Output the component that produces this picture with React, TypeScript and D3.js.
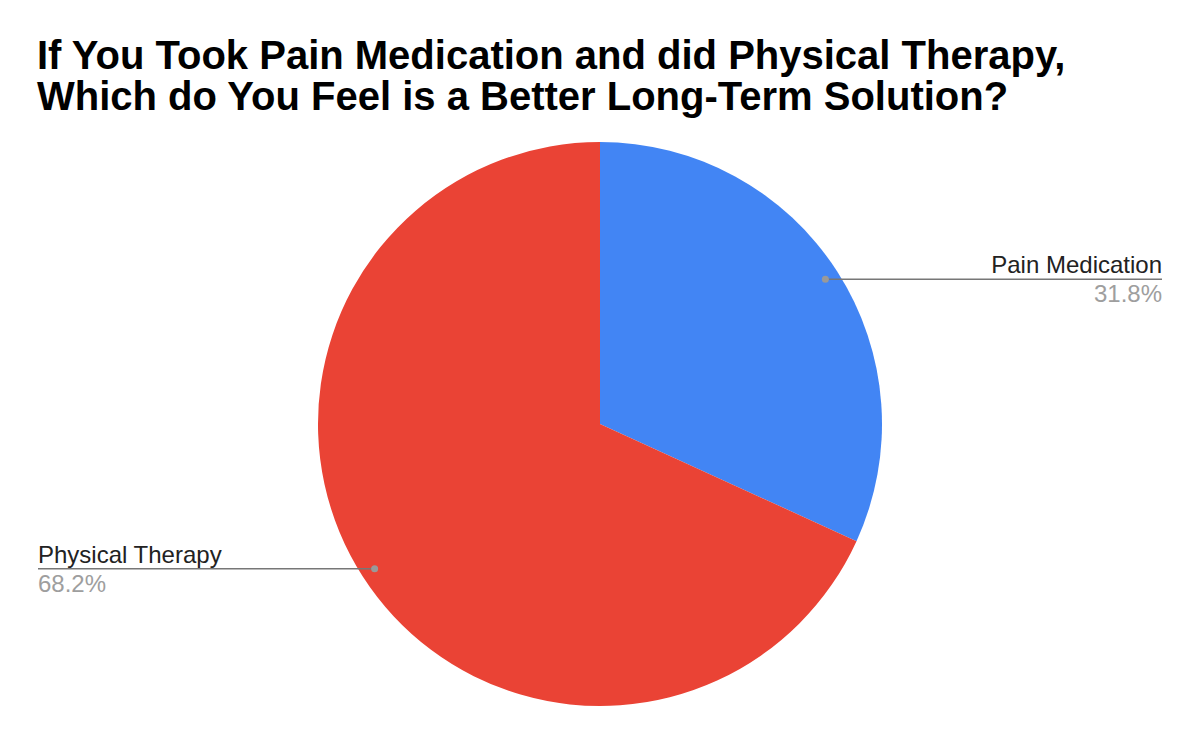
import React, { useEffect, useRef } from "react";
import * as d3 from "d3";

const categories = ["Pain Medication", "Physical Therapy"];
const responses = [7, 15];
const sliceColors = ["#4285F4", "#EA4335"];
const titleLines = [
  "If You Took Pain Medication and did Physical Therapy,",
  "Which do You Feel is a Better Long-Term Solution?",
];

const width = 1200;
const height = 742;
const font = "'Liberation Sans', Arial, sans-serif";

const App: React.FC = () => {
  const svgRef = useRef<SVGSVGElement>(null);

  useEffect(() => {
    document.body.style.margin = "0";
    const svg = d3.select(svgRef.current);
    svg.html("");

    svg.append("rect").attr("width", width).attr("height", height).attr("fill", "#fff");

    // 제목
    const title = svg
      .append("text")
      .attr("font-family", font)
      .attr("font-weight", "bold")
      .attr("font-size", 40)
      .attr("fill", "#000");
    titleLines.forEach((line, i) => {
      title
        .append("tspan")
        .attr("x", 37)
        .attr("y", 69 + i * 41)
        .text(line);
    });

    const cx = 600;
    const cy = 424;
    const radius = 282;

    const g = svg.append("g").attr("transform", `translate(${cx},${cy})`);

    const data = categories.map((name, i) => ({ name, value: responses[i], color: sliceColors[i] }));
    const total = d3.sum(responses);

    const pie = d3
      .pie<{ name: string; value: number; color: string }>()
      .value((d) => d.value)
      .sort(null);
    const arcs = pie(data);

    const arc = d3
      .arc<d3.PieArcDatum<{ name: string; value: number; color: string }>>()
      .innerRadius(0)
      .outerRadius(radius);

    g.selectAll("path.slice")
      .data(arcs)
      .enter()
      .append("path")
      .attr("class", "slice")
      .attr("d", arc)
      .attr("fill", (d) => d.data.color);

    const dotArc = d3
      .arc<d3.PieArcDatum<{ name: string; value: number; color: string }>>()
      .innerRadius(radius * 0.95)
      .outerRadius(radius * 0.95);

    const fmt = d3.format(".1%");

    arcs.forEach((d) => {
      const [px, py] = dotArc.centroid(d);
      const mid = (d.startAngle + d.endAngle) / 2;
      const right = mid < Math.PI;
      const endX = right ? 1162 - cx : 38 - cx;

      g.append("line")
        .attr("x1", px)
        .attr("y1", py)
        .attr("x2", endX)
        .attr("y2", py)
        .attr("stroke", "#777")
        .attr("stroke-width", 1.5);

      g.append("circle").attr("cx", px).attr("cy", py).attr("r", 3.5).attr("fill", "#999");

      g.append("text")
        .attr("x", endX)
        .attr("y", py - 6)
        .attr("text-anchor", right ? "end" : "start")
        .attr("font-family", font)
        .attr("font-size", 24)
        .attr("fill", "#222")
        .text(d.data.name);

      g.append("text")
        .attr("x", endX)
        .attr("y", py + 23)
        .attr("text-anchor", right ? "end" : "start")
        .attr("font-family", font)
        .attr("font-size", 24)
        .attr("fill", "#9e9e9e")
        .text(fmt(d.data.value / total));
    });
  }, []);

  return <svg ref={svgRef} width={width} height={height} style={{ display: "block" }} />;
};

export default App;
